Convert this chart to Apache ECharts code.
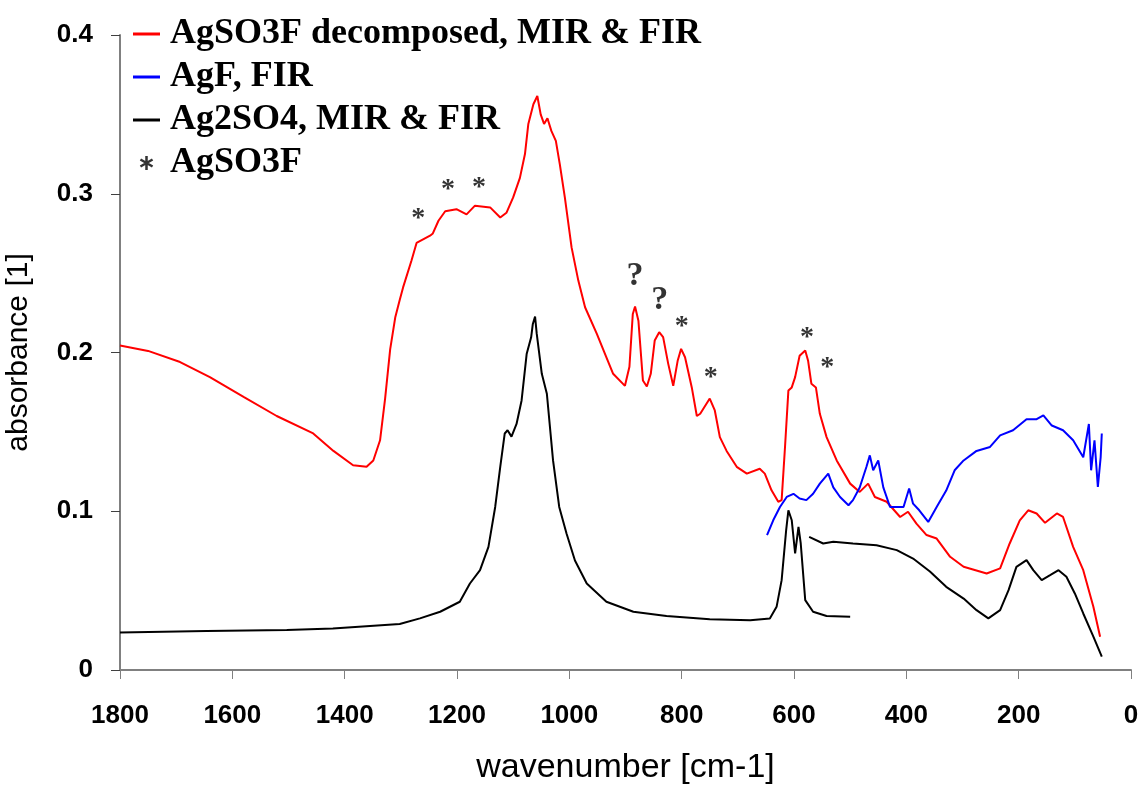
<!DOCTYPE html>
<html>
<head>
<meta charset="utf-8">
<script src="https://cdn.jsdelivr.net/npm/echarts@6/dist/echarts.min.js"></script>
<style>
  html, body { margin: 0; padding: 0; background: #fff; }
  #chartmain { width: 1144px; height: 785px; }
</style>
</head>
<body>
<div id="chartmain"></div>
<script>
// x ticks / y ticks
var xTicks = [1800, 1600, 1400, 1200, 1000, 800, 600, 400, 200, 0];
var yTicks = [0, 0.1, 0.2, 0.3, 0.4];

// AgSO3F decomposed, MIR & FIR
var redX = [1800, 1750, 1693, 1640, 1580, 1521, 1456, 1420, 1385, 1361, 1349, 1337, 1328, 1319, 1310, 1302,
  1296, 1281, 1272, 1248, 1243, 1233, 1221, 1201, 1183, 1168, 1141, 1123, 1112, 1100, 1088, 1079, 1073,
  1064, 1057, 1051, 1045, 1039, 1032, 1024, 1017, 1008, 996, 984, 972, 951, 934, 922, 901, 893, 887,
  883, 877, 869, 862, 855, 848, 840, 833, 824, 815, 807, 801, 794, 782, 773, 767, 750, 741, 732, 720,
  702, 684, 661, 652, 640, 628, 622, 616, 610, 604, 598, 590, 580, 575, 569, 561, 554, 542, 524, 500,
  483, 468, 456, 435, 411, 397, 382, 364, 346, 322, 298, 257, 233, 216, 198, 183, 168, 153, 132, 121,
  103, 85, 67, 55];
var redY = [0.2044, 0.201, 0.194, 0.1845, 0.172, 0.160, 0.149, 0.138, 0.129, 0.128, 0.132, 0.1447, 0.171, 0.202, 0.222, 0.233,
  0.241, 0.258, 0.269, 0.2736, 0.275, 0.283, 0.289, 0.2903, 0.287, 0.2925, 0.2914, 0.285, 0.288, 0.2977, 0.310, 0.325, 0.344,
  0.3564, 0.3616, 0.350, 0.344, 0.3476, 0.3396, 0.3333, 0.3187, 0.2977, 0.2662, 0.2453, 0.2285, 0.2117, 0.197, 0.1866, 0.179, 0.191, 0.2243,
  0.229, 0.220, 0.1824, 0.1786, 0.1866, 0.2075, 0.2128, 0.2097, 0.193, 0.179, 0.195, 0.2023, 0.197, 0.178, 0.160, 0.1614, 0.171, 0.1635, 0.1467, 0.138,
  0.128, 0.1237, 0.1268, 0.1237, 0.1132, 0.106, 0.107, 0.1405, 0.176, 0.178, 0.1845, 0.198, 0.2013, 0.195, 0.1803, 0.178, 0.1614, 0.1467, 0.132, 0.1174,
  0.1122, 0.1174, 0.109, 0.106, 0.0964, 0.0997, 0.0922, 0.085, 0.0828, 0.0713, 0.065, 0.0608, 0.064, 0.0797, 0.0943, 0.1006, 0.0986, 0.0927, 0.0986, 0.0964,
  0.0776, 0.0629, 0.0398, 0.021];

// AgF, FIR
var blueX = [648, 637, 625, 613, 601, 590, 578, 566, 554, 539, 530, 518, 503, 495, 483, 471, 465, 459, 450, 441,
  429, 411, 405, 395, 388, 377, 361, 346, 329, 314, 298, 275, 251, 233, 210, 186, 168, 156, 141, 121,
  103, 85, 75, 71, 65, 59, 54, 52];
var blueY = [0.085, 0.0943, 0.1027, 0.109, 0.111, 0.108, 0.107, 0.111, 0.1174, 0.1237, 0.115, 0.109, 0.1038, 0.107, 0.115, 0.128, 0.1352, 0.1258, 0.132, 0.115,
  0.1027, 0.1027, 0.1027, 0.1143, 0.1048, 0.1006, 0.0933, 0.1027, 0.113, 0.1258, 0.132, 0.138, 0.1405, 0.1478, 0.151, 0.158, 0.158, 0.1604, 0.154, 0.151,
  0.1447, 0.134, 0.155, 0.1258, 0.1447, 0.1153, 0.134, 0.149];

// Ag2SO4, MIR & FIR (null = gap between MIR and FIR parts)
var blackX = [1800, 1646, 1503, 1421, 1302, 1266, 1230, 1195, 1177, 1159, 1144, 1132, 1123, 1115, 1110, 1103, 1094,
  1085, 1076, 1068, 1065, 1061, 1058, 1049, 1040, 1029, 1018, 1005, 990, 969, 934, 886, 827, 750, 678, 643,
  631, 622, 614, 610, 604, 598, 592, 588, 580, 566, 542, 500,
  500,
  573, 548, 530, 495, 453, 417, 388, 358, 329, 298, 275, 254, 233, 218, 204, 186, 174, 159, 144, 129,
  115, 100, 85, 67, 52];
var blackY = [0.0237, 0.0245, 0.0252, 0.0262, 0.0290, 0.0325, 0.0367, 0.043, 0.0545, 0.0629, 0.0776, 0.1027, 0.1279, 0.149, 0.151, 0.147, 0.155,
  0.1698, 0.199, 0.2096, 0.218, 0.2226, 0.2117, 0.1866, 0.174, 0.132, 0.1027, 0.086, 0.069, 0.0545, 0.043, 0.0367, 0.034, 0.0319, 0.0314, 0.0325,
  0.0398, 0.0566, 0.088, 0.1006, 0.0943, 0.0734, 0.0901, 0.0797, 0.044, 0.0367, 0.034, 0.0335,
  null,
  0.0838, 0.0797, 0.0808, 0.0797, 0.0786, 0.0755, 0.0702, 0.062, 0.0524, 0.045, 0.0377, 0.0325, 0.0377, 0.0503, 0.065, 0.0692, 0.0629, 0.0566, 0.0597, 0.0629,
  0.0587, 0.0482, 0.0356, 0.021, 0.0084];

// band annotations
var starX = [1269, 1216, 1161, 800, 748, 577, 541];
var starY = [0.288, 0.306, 0.3075, 0.220, 0.188, 0.213, 0.194];
var questX = [883, 839];
var questY = [0.248, 0.233];

function pairs(xs, ys) {
  return xs.map(function (x, i) { return [x, ys[i] === null ? '-' : ys[i]]; });
}

// legend icons
var bar = 'path://M0,0L27,0L27,3L0,3Z';
var asterisk = 'path://M-0.9,-5L0.9,-5L0.9,5L-0.9,5Z' +
  'M-4.78,-1.72L-3.88,-3.28L4.78,1.72L3.88,3.28Z' +
  'M3.88,-3.28L4.78,-1.72L-3.88,3.28L-4.78,1.72Z';

var myChart = echarts.init(document.getElementById('chartmain'));
myChart.setOption({
  animation: false,
  backgroundColor: '#fff',
  grid: { left: 120, right: 13, top: 35, bottom: 115, outerBoundsMode: 'none' },
  legend: {
    orient: 'vertical',
    left: 128,
    top: 11,
    itemWidth: 27,
    itemHeight: 14,
    itemGap: 7,
    symbolKeepAspect: true,
    selectedMode: false,
    textStyle: {
      fontFamily: 'Liberation Serif, Times New Roman, serif',
      fontWeight: 'bold',
      fontSize: 36,
      color: '#000',
      padding: [0, 0, 0, 5]
    },
    data: [
      { name: 'AgSO3F decomposed, MIR & FIR', icon: bar, itemStyle: { color: '#ff0000' } },
      { name: 'AgF, FIR', icon: bar, itemStyle: { color: '#0000ff' } },
      { name: 'Ag2SO4, MIR & FIR', icon: bar, itemStyle: { color: '#000000' } },
      { name: 'AgSO3F', icon: asterisk, itemStyle: { color: '#000' } }
    ]
  },
  xAxis: {
    type: 'value',
    inverse: true,
    min: 0,
    max: 1800,
    interval: 200,
    name: 'wavenumber [cm-1]',
    nameLocation: 'middle',
    nameGap: 81,
    nameTextStyle: { fontFamily: 'Liberation Sans, Arial, sans-serif', fontSize: 34, color: '#000' },
    axisLine: { onZero: false, lineStyle: { color: '#808080', width: 2 } },
    axisTick: { inside: false, length: 9, lineStyle: { color: '#808080', width: 1 } },
    axisLabel: {
      margin: 33,
      fontFamily: 'Liberation Sans, Arial, sans-serif',
      fontWeight: 'bold',
      fontSize: 26,
      color: '#000',
      formatter: function (v) { return xTicks.indexOf(v) >= 0 ? String(v) : ''; }
    },
    splitLine: { show: false }
  },
  yAxis: {
    type: 'value',
    position: 'left',
    min: 0,
    max: 0.4,
    interval: 0.1,
    name: 'absorbance [1]',
    nameLocation: 'middle',
    nameGap: 86,
    nameTextStyle: { fontFamily: 'Liberation Sans, Arial, sans-serif', fontSize: 30, color: '#000' },
    axisLine: { show: true, onZero: false, lineStyle: { color: '#808080', width: 2 } },
    axisTick: { show: true, inside: false, length: 9, lineStyle: { color: '#404040', width: 1 } },
    axisLabel: {
      margin: 27,
      fontFamily: 'Liberation Sans, Arial, sans-serif',
      fontWeight: 'bold',
      fontSize: 26,
      color: '#000',
      formatter: function (v) {
        var r = Math.round(v * 10) / 10;
        return yTicks.indexOf(r) >= 0 ? String(r) : '';
      }
    },
    splitLine: { show: false }
  },
  series: [
    {
      name: 'AgSO3F decomposed, MIR & FIR',
      type: 'line',
      color: '#ff0000',
      symbol: 'none',
      lineStyle: { width: 2, color: '#ff0000' },
      data: pairs(redX, redY)
    },
    {
      name: 'AgF, FIR',
      type: 'line',
      color: '#0000ff',
      symbol: 'none',
      lineStyle: { width: 2, color: '#0000ff' },
      data: pairs(blueX, blueY)
    },
    {
      name: 'Ag2SO4, MIR & FIR',
      type: 'line',
      color: '#000000',
      symbol: 'none',
      connectNulls: false,
      lineStyle: { width: 2, color: '#000000' },
      data: pairs(blackX, blackY)
    },
    {
      name: 'AgSO3F',
      type: 'scatter',
      color: '#000',
      symbolSize: 1,
      itemStyle: { color: 'rgba(0,0,0,0)' },
      label: {
        show: true,
        position: 'inside',
        offset: [0, 6],
        formatter: '*',
        fontFamily: 'Liberation Serif, Times New Roman, serif',
        fontWeight: 'bold',
        fontSize: 28,
        color: '#000'
      },
      data: pairs(starX, starY)
    },
    {
      name: 'unassigned',
      type: 'scatter',
      symbolSize: 1,
      itemStyle: { color: 'rgba(0,0,0,0)' },
      label: {
        show: true,
        position: 'inside',
        offset: [0, 0],
        formatter: '?',
        fontFamily: 'Liberation Serif, Times New Roman, serif',
        fontWeight: 'bold',
        fontSize: 34,
        color: '#000'
      },
      data: pairs(questX, questY)
    }
  ]
});
</script>
</body>
</html>
